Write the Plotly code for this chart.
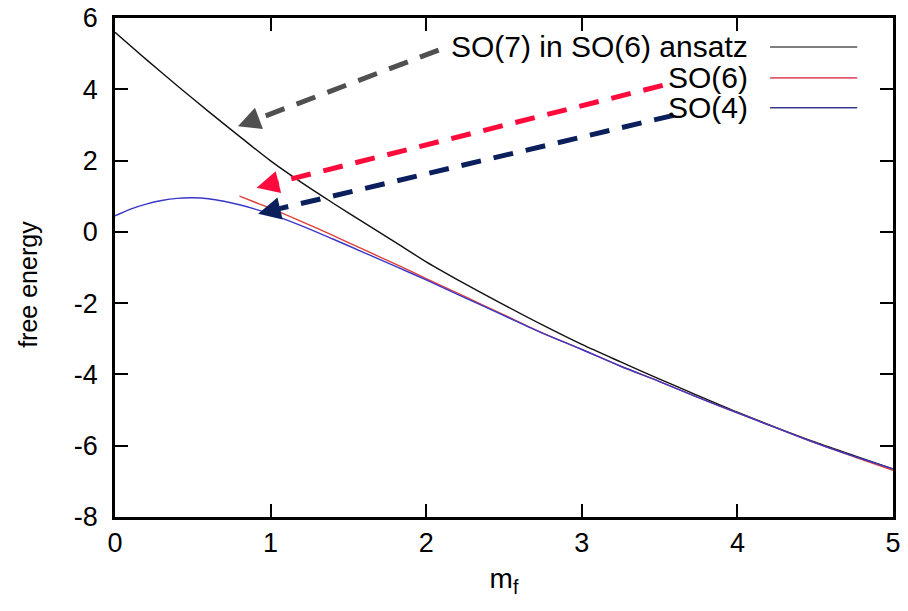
import plotly.graph_objects as go
import math

# ---------------- data ----------------
m_black = [0.0, 0.2, 0.4, 0.6, 0.8, 1.0, 1.2, 1.4, 1.6, 1.8, 2.0, 2.25, 2.5, 2.75,
           3.0, 3.25, 3.5, 3.75, 4.0, 4.25, 4.5, 4.75, 5.0]
f_black = [5.60, 4.84, 4.10, 3.38, 2.68, 1.99, 1.38, 0.81, 0.26, -0.29, -0.84, -1.46,
           -2.05, -2.62, -3.16, -3.65, -4.13, -4.60, -5.06, -5.49, -5.90, -6.28, -6.65]

m_red = [0.8, 0.9, 1.0, 1.2, 1.4, 1.6, 1.8, 2.0, 2.25, 2.5, 2.75, 3.0, 3.25, 3.5,
         3.75, 4.0, 4.25, 4.5, 4.75, 5.0]
f_red = [1.00, 0.83, 0.66, 0.29, -0.10, -0.50, -0.90, -1.31, -1.82, -2.33, -2.84,
         -3.30, -3.77, -4.20, -4.65, -5.08, -5.50, -5.92, -6.31, -6.69]

m_blue = [0.0, 0.1, 0.2, 0.3, 0.4, 0.5, 0.6, 0.7, 0.8, 0.9, 1.0, 1.2, 1.4, 1.6, 1.8,
          2.0, 2.25, 2.5, 2.75, 3.0, 3.25, 3.5, 3.75, 4.0, 4.25, 4.5, 4.75, 5.0]
f_blue = [0.45, 0.64, 0.78, 0.88, 0.94, 0.955, 0.93, 0.86, 0.76, 0.64, 0.50, 0.17,
          -0.20, -0.58, -0.96, -1.35, -1.85, -2.35, -2.85, -3.30, -3.77, -4.20,
          -4.65, -5.08, -5.50, -5.92, -6.30, -6.65]

series_names = ["SO(7) in SO(6) ansatz", "SO(6)", "SO(4)"]
series_colors = ["#111111", "#e0403a", "#3a36c8"]
legend_colors = ["#555555", "#e05a6e", "#3a3a8c"]

# arrows: (tail m, tail f) -> (tip m, tip f)
arrow_tail_m = [2.08, 3.52, 3.59]
arrow_tail_f = [5.10, 4.11, 3.27]
arrow_tip_m = [0.79, 0.91, 0.92]
arrow_tip_f = [2.96, 1.24, 0.51]
arrow_colors = ["#505050", "#ff0a3c", "#0a1f5c"]

x_ticks = [0, 1, 2, 3, 4, 5]
y_ticks = [6, 4, 2, 0, -2, -4, -6, -8]

x_title = "m<sub>f</sub>"
y_title = "free energy"

# ---------------- layout constants ----------------
W, H = 908, 611
ML, MR, MT, MB = 115, 15, 18, 94
XR = [0, 5]
YR = [-8, 6]
FONT = "Liberation Sans, Arial, sans-serif"

fig = go.Figure()
for mx, fy, nm, col in [(m_black, f_black, series_names[0], series_colors[0]),
                        (m_red, f_red, series_names[1], series_colors[1]),
                        (m_blue, f_blue, series_names[2], series_colors[2])]:
    fig.add_trace(go.Scatter(x=mx, y=fy, mode="lines", name=nm,
                             line=dict(color=col, width=1.4, shape="spline", smoothing=0.8),
                             showlegend=False))

# dashed arrows
pw = W - ML - MR
ph = H - MT - MB
ppx = pw / (XR[1] - XR[0])
ppy = ph / (YR[1] - YR[0])
HEAD = 22.0
for tm, tf, hm, hf, col in zip(arrow_tail_m, arrow_tail_f, arrow_tip_m, arrow_tip_f, arrow_colors):
    dxp = (tm - hm) * ppx
    dyp = (tf - hf) * ppy
    L = math.hypot(dxp, dyp)
    fr = HEAD / L
    bm = hm + (tm - hm) * fr
    bf = hf + (tf - hf) * fr
    fig.add_shape(type="line", xref="x", yref="y", x0=tm, y0=tf, x1=bm, y1=bf,
                  line=dict(color=col, width=5, dash="20px,13px"))
    fig.add_annotation(x=hm, y=hf, ax=bm, ay=bf, axref="x", ayref="y", xref="x", yref="y",
                       text="", showarrow=True, arrowhead=2, arrowsize=1.0,
                       arrowwidth=4.5, arrowcolor=col)

# manual gnuplot-style key (text right, sample line on the right)
key_y = [0.942, 0.880, 0.820]
for nm, col, ky in zip(series_names, legend_colors, key_y):
    fig.add_annotation(xref="paper", yref="paper", x=0.816, y=ky, text=nm,
                       showarrow=False, xanchor="right", yanchor="middle",
                       font=dict(family=FONT, size=30, color="#000000"))
    fig.add_shape(type="line", xref="paper", yref="paper", x0=0.842, x1=0.954,
                  y0=ky, y1=ky, line=dict(color=col, width=1.6))

# y-axis label placed like gnuplot's ylabel
fig.add_annotation(xref="paper", yref="paper", x=-0.112, y=0.467, text=y_title,
                   textangle=-90, showarrow=False, xanchor="center", yanchor="middle",
                   font=dict(family=FONT, size=25, color="#000000"))

axis_common = dict(showgrid=False, zeroline=False, showline=True, linecolor="#000000",
                   linewidth=2.5, mirror="allticks", ticks="inside", ticklen=13,
                   tickwidth=1.5, tickcolor="#000000",
                   tickfont=dict(family=FONT, size=27, color="#000000"))

fig.update_xaxes(range=XR, tickvals=x_ticks, ticktext=[str(v) for v in x_ticks],
                 title=dict(text=x_title, font=dict(family=FONT, size=28, color="#000000"),
                            standoff=12),
                 **axis_common)
fig.update_yaxes(range=YR, tickvals=y_ticks, ticktext=[str(v) for v in y_ticks],
                 ticklabelstandoff=9, **axis_common)

fig.update_layout(width=W, height=H, margin=dict(l=ML, r=MR, t=MT, b=MB, autoexpand=False),
                  plot_bgcolor="#ffffff", paper_bgcolor="#ffffff",
                  font=dict(family=FONT, color="#000000"))

fig.write_html("out.html")
